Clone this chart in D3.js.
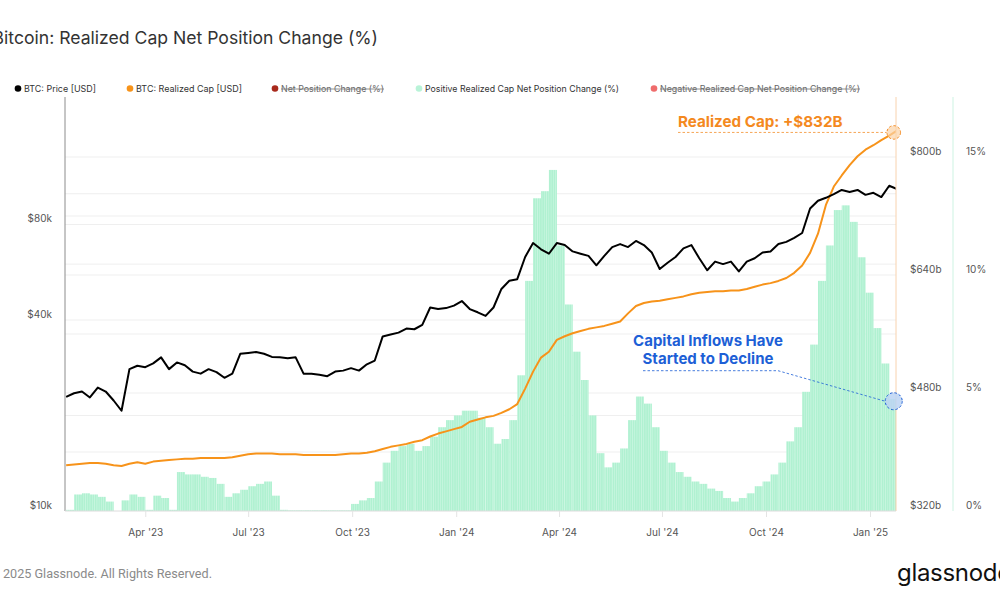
<!DOCTYPE html>
<html><head><meta charset="utf-8">
<script src="https://cdn.jsdelivr.net/npm/d3@7"></script>
<style>
html,body{margin:0;padding:0;background:#fff;overflow:hidden}
svg{display:block;font-family:Inter,"Noto Sans",sans-serif}
</style></head><body>
<svg id="chart" width="1000" height="600"></svg>
<script>
// ---------------- DATA (weekly) ----------------
const startDate = "2023-01-21";
const stepDays = 7;
// BTC price, thousands of USD
const priceK = [22.9,23.5,23.8,22.8,24.5,23.8,22.3,20.7,28.0,28.7,
 28.4,29.2,30.5,28.0,29.4,28.8,27.5,27.1,28.0,27.4,
 26.3,27.1,31.3,31.5,31.7,31.3,30.6,30.5,30.3,30.5,
 27.1,27.1,26.9,26.6,27.5,27.7,28.2,27.7,29.0,29.8,
 35.5,36.0,36.5,37.6,37.4,38.6,43.8,43.3,43.6,44.4,
 45.9,43.3,42.3,41.2,43.8,50.1,53.2,53.8,63.2,69.9,
 66.8,64.7,69.9,68.9,65.8,64.7,63.7,59.5,63.7,67.9,
 69.4,67.9,71.0,68.9,65.3,57.9,60.6,63.2,67.3,68.9,
 62.6,57.4,61.1,60.0,61.1,56.9,61.1,62.6,65.3,65.8,
 69.4,70.5,72.6,75.2,89.8,95.0,97.1,99.7,102.8,101.3,
 102.8,99.2,100.7,97.6,106.0,103.4];
// BTC realized cap, billions of USD
const realizedCapB = [382,383,384,385,385,384,382,381,384,386,
 384,387,388,389,390,391,391,392,392,392,
 392,393,395,397,398,398,398,397,397,397,
 396,396,396,396,396,397,398,398,399,401,
 404,407,409,411,414,416,421,425,428,431,
 434,441,444,447,449,453,458,465,486,509,
 528,536,552,557,561,564,567,569,571,574,
 577,588,598,602,604,605,607,609,611,614,
 616,617,618,618,619,619,621,624,627,629,
 632,636,643,653,670,696,735,760,775,789,
 801,810,816,823,829,836];
// Positive realized cap net position change, %
const netPositionPct = [0.05,0.7,0.75,0.7,0.6,0.4,0.0,0.45,0.7,0.6,
 0.05,0.65,0.55,0.05,1.65,1.55,1.55,1.45,1.4,1.15,
 0.6,0.75,0.9,1.05,1.15,1.25,0.65,0.05,0.03,0.03,
 0.03,0.03,0.03,0.03,0.03,0.03,0.3,0.45,0.55,1.25,
 2.05,2.55,2.75,2.85,2.55,2.75,3.15,3.55,3.85,4.05,
 4.25,4.25,3.95,3.55,2.85,3.05,3.85,5.75,9.75,13.25,
 13.55,14.45,11.25,8.75,6.75,5.55,4.05,2.45,1.85,2.05,
 2.65,3.85,4.85,4.55,3.55,2.55,2.05,1.65,1.45,1.25,
 1.15,0.95,0.85,0.55,0.4,0.55,0.75,1.05,1.25,1.55,
 2.05,2.95,3.55,5.05,7.05,9.75,11.25,12.75,12.95,12.25,
 10.75,9.25,7.75,6.25,4.75,4.45];

const priceTicks = [10000, 40000, 80000];
const priceTickLabels = ["$10k", "$40k", "$80k"];
const priceGrid = [20000, 40000, 60000, 80000, 100000];
const capTicks = [320, 480, 640, 800];
const capTickLabels = ["$320b", "$480b", "$640b", "$800b"];
const capGrid = [400, 480, 560, 640, 720, 800];
const pctTicks = [0, 5, 10, 15];
const pctTickLabels = ["0%", "5%", "10%", "15%"];
const monthTicks = ["2023-04-01","2023-07-01","2023-10-01","2024-01-01","2024-04-01","2024-07-01","2024-10-01","2025-01-01"];
const monthTickLabels = ["Apr '23","Jul '23","Oct '23","Jan '24","Apr '24","Jul '24","Oct '24","Jan '25"];

const legendLabels = ["BTC: Price [USD]","BTC: Realized Cap [USD]","Net Position Change (%)","Positive Realized Cap Net Position Change (%)","Negative Realized Cap Net Position Change (%)"];
const legendHidden = [false,false,true,false,true];

const titleText = "Bitcoin: Realized Cap Net Position Change (%)";
const footerText = "2025 Glassnode. All Rights Reserved.";
const brandText = "glassnode";
const capAnnotation = {date:"2025-01-22", value:832, label:"Realized Cap: +$832B"};
const pctAnnotation = {date:"2025-01-22", value:4.65, lines:["Capital Inflows Have","Started to Decline"]};

// ---------------- LAYOUT / STYLE ----------------
const M = {left:65, right:896, top:97, bottom:511};
const pctAxisX = 953;
const C = {price:"#000000", cap:"#f7931a", bar:"#b0f1d1", barGap:"#d6f9e8", grid:"#efefef",
           axisText:"#555555", orange:"#f4891e", blue:"#1d5fd6", netRed:"#a8291c", negPink:"#ef6c6c"};
const legendColors = [C.price, C.cap, C.netRed, "#b9f3d8", C.negPink];
const legendDotX = [18,130,275,419,654];
const legendTextW = [72,106,103,194,200];

const parse = d3.utcParse("%Y-%m-%d");
const t0 = parse(startDate);
const rows = priceK.map((p,i)=>({date:d3.utcDay.offset(t0,i*stepDays), price:p*1000, cap:realizedCapB[i], pct:netPositionPct[i]}));

const x = d3.scaleUtc().domain([parse("2023-01-20"), parse("2025-01-24")]).range([M.left, M.right]);
const yP = d3.scaleLog().domain([10000, 201800]).range([M.bottom, M.top]);
const yC = d3.scaleLinear().domain([320, 881.4]).range([M.bottom, M.top]);
const yR = d3.scaleLinear().domain([0, 17.54]).range([M.bottom, M.top]);

const svg = d3.select("#chart");
const defs = svg.append("defs");
defs.append("clipPath").attr("id","plotClip").append("rect")
  .attr("x",M.left).attr("y",M.top-20).attr("width",M.right-M.left).attr("height",M.bottom-M.top+20);
const pat = defs.append("pattern").attr("id","barPat").attr("patternUnits","userSpaceOnUse")
  .attr("width",2.26).attr("height",20);
pat.append("rect").attr("width",2.26).attr("height",20).attr("fill",C.barGap);
pat.append("rect").attr("width",1.8).attr("height",20).attr("fill",C.bar);

// title (first letter falls off the left edge, as in the reference)
svg.append("text").attr("x",378).attr("y",44).attr("font-size",17.6).attr("fill","#333")
  .attr("text-anchor","end").text(titleText);

// legend
const lg = svg.append("g").attr("font-size",9);
legendLabels.forEach((lab,i)=>{
  lg.append("circle").attr("cx",legendDotX[i]).attr("cy",88.5).attr("r",3.3).attr("fill",legendColors[i]);
  const tx = legendDotX[i]+6;
  lg.append("text").attr("x",tx).attr("y",92).attr("fill",legendHidden[i]?"#666":"#333")
    .attr("textLength",legendTextW[i]).attr("lengthAdjust","spacingAndGlyphs").text(lab);
  if(legendHidden[i]) lg.append("line").attr("x1",tx).attr("x2",tx+legendTextW[i])
    .attr("y1",89).attr("y2",89).attr("stroke","#777").attr("stroke-width",0.8);
});

// grid
const grid = svg.append("g");
grid.selectAll("line.gp").data(priceGrid).join("line")
  .attr("x1",M.left).attr("x2",M.right).attr("y1",d=>yP(d)).attr("y2",d=>yP(d))
  .attr("stroke",C.grid).attr("stroke-width",1);
grid.selectAll("line.gc").data(capGrid).join("line")
  .attr("x1",M.left).attr("x2",M.right).attr("y1",d=>yC(d)).attr("y2",d=>yC(d))
  .attr("stroke",C.grid).attr("stroke-width",1);

// plot
const plot = svg.append("g").attr("clip-path","url(#plotClip)");
plot.selectAll("rect.bar").data(rows).join("rect").attr("class","bar")
  .attr("x",d=>x(d.date))
  .attr("width",d=>x(d3.utcDay.offset(d.date,stepDays))-x(d.date)+0.1)
  .attr("y",d=>yR(d.pct)).attr("height",d=>M.bottom-yR(d.pct))
  .attr("fill","url(#barPat)");
plot.append("path").datum(rows).attr("fill","none").attr("stroke",C.cap).attr("stroke-width",2)
  .attr("stroke-linejoin","round")
  .attr("d",d3.line().x(d=>x(d.date)).y(d=>yC(d.cap)));
plot.append("path").datum(rows).attr("fill","none").attr("stroke",C.price).attr("stroke-width",2)
  .attr("stroke-linejoin","round")
  .attr("d",d3.line().x(d=>x(d.date)).y(d=>yP(d.price)));

// axes lines
svg.append("line").attr("x1",M.left).attr("x2",M.left).attr("y1",M.top).attr("y2",M.bottom)
  .attr("stroke","#8c8c8c").attr("stroke-width",1);
svg.append("line").attr("x1",M.right).attr("x2",M.right).attr("y1",M.top).attr("y2",M.bottom)
  .attr("stroke","#f8d2ae").attr("stroke-width",1);
svg.append("line").attr("x1",pctAxisX).attr("x2",pctAxisX).attr("y1",M.top).attr("y2",M.bottom)
  .attr("stroke","#cdf3e2").attr("stroke-width",1);
svg.append("line").attr("x1",M.left).attr("x2",M.right).attr("y1",M.bottom).attr("y2",M.bottom)
  .attr("stroke","#dcdcdc").attr("stroke-width",1);

function styleAxis(g){
  g.select(".domain").remove();
  g.selectAll("text").attr("fill",C.axisText).attr("font-size",10).attr("font-family","Inter");
}
const axL = svg.append("g").attr("transform",`translate(${M.left},0)`)
  .call(d3.axisLeft(yP).tickValues(priceTicks).tickFormat((d,i)=>priceTickLabels[i]).tickSize(0).tickPadding(13));
styleAxis(axL); axL.selectAll("text").attr("y",-6);
const axC = svg.append("g").attr("transform",`translate(${M.right},0)`)
  .call(d3.axisRight(yC).tickValues(capTicks).tickFormat((d,i)=>capTickLabels[i]).tickSize(0).tickPadding(14));
styleAxis(axC); axC.selectAll("text").attr("y",-6);
const axR = svg.append("g").attr("transform",`translate(${pctAxisX},0)`)
  .call(d3.axisRight(yR).tickValues(pctTicks).tickFormat((d,i)=>pctTickLabels[i]).tickSize(0).tickPadding(13));
styleAxis(axR); axR.selectAll("text").attr("y",-6);
const axB = svg.append("g").attr("transform",`translate(0,${M.bottom})`)
  .call(d3.axisBottom(x).tickValues(monthTicks.map(parse)).tickFormat((d,i)=>monthTickLabels[i]).tickSize(6).tickPadding(11.5));
styleAxis(axB); axB.selectAll("line").attr("stroke","#e4e4e4");

// annotation: realized cap
const ca = {x:x(parse(capAnnotation.date)), y:yC(capAnnotation.value)};
svg.append("line").attr("x1",678).attr("x2",ca.x-7).attr("y1",ca.y-1).attr("y2",ca.y-1)
  .attr("stroke",C.orange).attr("stroke-width",1).attr("stroke-dasharray","2.5,2").attr("opacity",0.75);
svg.append("circle").attr("cx",ca.x).attr("cy",ca.y-1).attr("r",6.8)
  .attr("fill","#fbd3a6").attr("fill-opacity",0.7).attr("stroke",C.orange).attr("stroke-width",1).attr("stroke-dasharray","2.5,2");
svg.append("text").attr("x",678).attr("y",ca.y-6).attr("font-size",15.2).attr("font-weight",700)
  .attr("fill",C.orange).text(capAnnotation.label);

// annotation: inflows
const pa = {x:x(parse(pctAnnotation.date)), y:yR(pctAnnotation.value)};
const bt = svg.append("g").attr("font-size",15).attr("font-weight",700).attr("fill",C.blue).attr("text-anchor","middle");
pctAnnotation.lines.forEach((l,i)=>bt.append("text").attr("x",708).attr("y",346+i*17.5).text(l));
svg.append("path").attr("d",`M643,370.7 L778,370.7 L${pa.x-8.5},${pa.y}`)
  .attr("fill","none").attr("stroke",C.blue).attr("stroke-width",1).attr("stroke-dasharray","2.5,2").attr("opacity",0.8);
svg.append("circle").attr("cx",pa.x).attr("cy",pa.y).attr("r",8.5)
  .attr("fill","#bcd3f3").attr("fill-opacity",0.85).attr("stroke",C.blue).attr("stroke-width",1).attr("stroke-dasharray","2.5,2");

// footer
svg.append("text").attr("x",3).attr("y",578).attr("font-size",12).attr("fill","#8a8a8a")
  .attr("font-family","Roboto").attr("textLength",209).attr("lengthAdjust","spacingAndGlyphs").text(footerText);
svg.append("text").attr("x",897).attr("y",581).attr("font-size",24).attr("font-weight",400).attr("fill","#111")
  .attr("font-family","Inter").attr("letter-spacing",-0.3).text(brandText);
</script>
</body></html>
